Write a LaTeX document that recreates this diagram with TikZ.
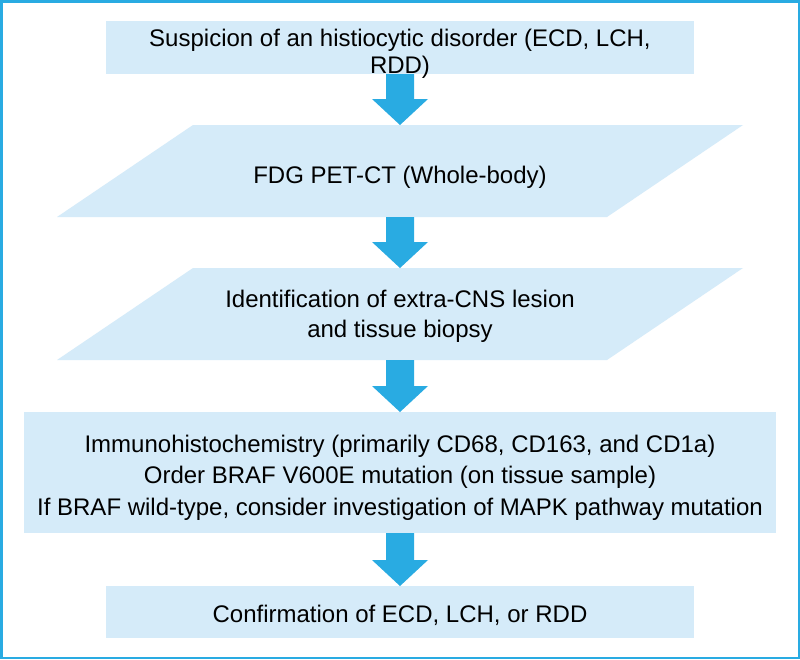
\documentclass[tikz,border=0pt]{standalone}
\usepackage{fontspec}
\setmainfont{Liberation Sans}
\usetikzlibrary{backgrounds,calc}
\definecolor{boxblue}{HTML}{D5EBF9}
\definecolor{arrowblue}{HTML}{29ABE2}
\newcommand\blockarrow[2]{%
  \fill[arrowblue] let \p1=(#1), \p2=(#2) in
    (\x1-14pt,\y1) -- (\x1-14pt,\y2+26pt) -- (\x1-28pt,\y2+26pt) --
    (\x2,\y2) -- (\x1+28pt,\y2+26pt) -- (\x1+14pt,\y2+26pt) --
    (\x1+14pt,\y1) -- cycle;}
\begin{document}
\begin{tikzpicture}[x=1pt,y=-1pt,
  shapebox/.style={inner sep=0pt, outer sep=0pt},
  rectbox/.style={shapebox, fill=boxblue},
  txt/.style={inner sep=0pt, align=center, anchor=base, font=\fontsize{24}{#1}\selectfont},
  txt/.default=27.5]
\useasboundingbox (0,0) rectangle (800,659);

% box 1
\node[rectbox, minimum width=588pt, minimum height=53pt] (b1) at (400,47.5) {};
\node[txt=27.5] (t1) at (400,73.5) {Suspicion of an histiocytic disorder (ECD, LCH,\\RDD)};

% parallelogram 1
\node[shapebox, minimum width=686pt, minimum height=92pt] (p1) at (400,171) {};
\node[txt] (t2) at (400,183) {FDG PET-CT (Whole-body)};

% parallelogram 2
\node[shapebox, minimum width=686pt, minimum height=92pt] (p2) at (400,314) {};
\node[txt=30] (t3) at (400,337) {Identification of extra-CNS lesion\\and tissue biopsy};

% box 4
\node[rectbox, minimum width=752pt, minimum height=121pt] (b4) at (400,472.5) {};
\node[txt=31.5] (t4) at (400,515) {Immunohistochemistry (primarily CD68, CD163, and CD1a)\\Order BRAF V600E mutation (on tissue sample)\\If BRAF wild-type, consider investigation of MAPK pathway mutation};

% box 5
\node[rectbox, minimum width=588pt, minimum height=52pt] (b5) at (400,612) {};
\node[txt] (t5) at (400,622) {Confirmation of ECD, LCH, or RDD};

\begin{scope}[on background layer]
  \fill[white] (0,0) rectangle (800,659);
  \fill[boxblue] (p1.south west) -- ++(550pt,0pt) -- (p1.north east) -- ++(-550pt,0pt) -- cycle;
  \fill[boxblue] (p2.south west) -- ++(550pt,0pt) -- (p2.north east) -- ++(-550pt,0pt) -- cycle;
\end{scope}

\draw[arrowblue, line width=2.5pt] (1.25,1.25) rectangle (798.75,657.75);

\blockarrow{b1.south}{p1.north}
\blockarrow{p1.south}{p2.north}
\blockarrow{p2.south}{b4.north}
\blockarrow{b4.south}{b5.north}
\end{tikzpicture}
\end{document}
